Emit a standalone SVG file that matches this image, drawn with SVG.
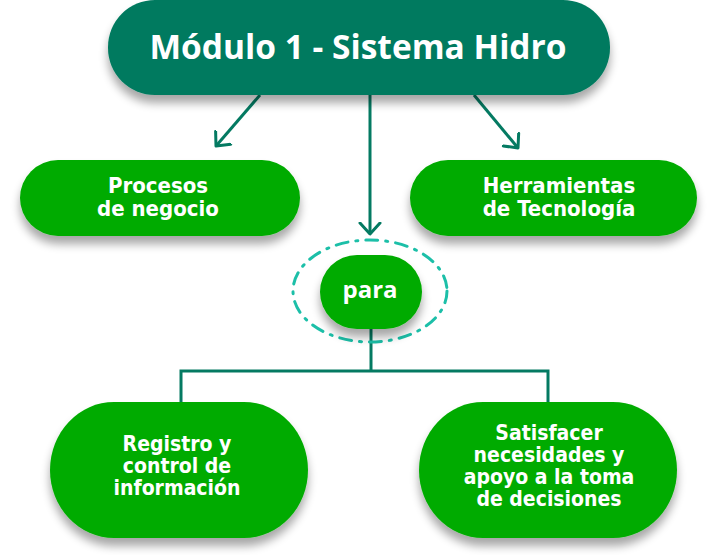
<svg xmlns="http://www.w3.org/2000/svg" width="726" height="555" viewBox="0 0 726 555">
<defs>
<filter id="sh" x="-20%" y="-20%" width="140%" height="160%">
<feGaussianBlur in="SourceAlpha" stdDeviation="5"/>
<feOffset dx="0" dy="8" result="b"/>
<feComponentTransfer><feFuncA type="linear" slope="0.35"/></feComponentTransfer>
<feMerge><feMergeNode/><feMergeNode in="SourceGraphic"/></feMerge>
</filter>
<marker id="ah" viewBox="0 0 24 24" refX="12" refY="12" markerWidth="24" markerHeight="24" markerUnits="userSpaceOnUse" orient="auto">
<path d="M1,2 L12,12 L1,22" fill="none" stroke="#047a62" stroke-width="3" stroke-linecap="round" stroke-linejoin="round"/>
</marker>
</defs>
<style>
.main{fill:#047a5f}
.g{fill:#00ab00}
.t{fill:#fff;font-family:"DejaVu Sans Condensed","DejaVu Sans",sans-serif;font-weight:bold;text-anchor:middle}
.title{fill:#fff;font-family:"Open Sans","Lato",sans-serif;font-weight:bold;text-anchor:middle;font-size:33.5px}
.c{fill:none;stroke:#047a62;stroke-width:3}
</style>
<g id="connectors">
<line class="c" x1="260" y1="95" x2="216" y2="146" marker-end="url(#ah)"/>
<line class="c" x1="370" y1="95" x2="370" y2="234" marker-end="url(#ah)"/>
<line class="c" x1="474" y1="95" x2="518" y2="148" marker-end="url(#ah)"/>
<polyline class="c" points="371,329 371,371"/>
<polyline class="c" points="181,402 181,371 548,371 548,402"/>
</g>
<g id="node-main">
<rect class="main" x="108" y="0" width="502" height="95" rx="47" filter="url(#sh)"/>
<text class="title" x="358" y="59">Módulo 1 - Sistema Hidro</text>
</g>
<g id="node-procesos">
<rect class="g" x="20" y="160" width="280" height="76" rx="38" filter="url(#sh)"/>
<text class="t" font-size="22" x="158" y="193">Procesos</text>
<text class="t" font-size="22" x="158" y="216">de negocio</text>
</g>
<g id="node-herramientas">
<rect class="g" x="410" y="160" width="287" height="76" rx="38" filter="url(#sh)"/>
<text class="t" font-size="22" x="559" y="193">Herramientas</text>
<text class="t" font-size="22" x="559" y="216">de Tecnología</text>
</g>
<g id="node-para">
<ellipse cx="370" cy="291" rx="77" ry="51" fill="none" stroke="#1cbfa8" stroke-width="3" stroke-dasharray="12 8 2 8" stroke-linecap="round"/>
<rect class="g" x="320" y="255" width="102" height="74" rx="37" filter="url(#sh)"/>
<text class="t" font-size="24" x="370" y="298" style="font-family:'Open Sans',sans-serif">para</text>
</g>
<g id="node-registro">
<path class="g" d="M114,402 H244 A64 68 0 0 1 244,538 H114 A64 68 0 0 1 114,402 Z" filter="url(#sh)"/>
<text class="t" font-size="21" x="177" y="451">Registro y</text>
<text class="t" font-size="21" x="177" y="473">control de</text>
<text class="t" font-size="21" x="177" y="495">información</text>
</g>
<g id="node-satisfacer">
<path class="g" d="M483,402 H613 A64 68 0 0 1 613,538 H483 A64 68 0 0 1 483,402 Z" filter="url(#sh)"/>
<text class="t" font-size="21" x="549" y="440">Satisfacer</text>
<text class="t" font-size="21" x="549" y="462">necesidades y</text>
<text class="t" font-size="21" x="549" y="484">apoyo a la toma</text>
<text class="t" font-size="21" x="549" y="506">de decisiones</text>
</g>
</svg>
